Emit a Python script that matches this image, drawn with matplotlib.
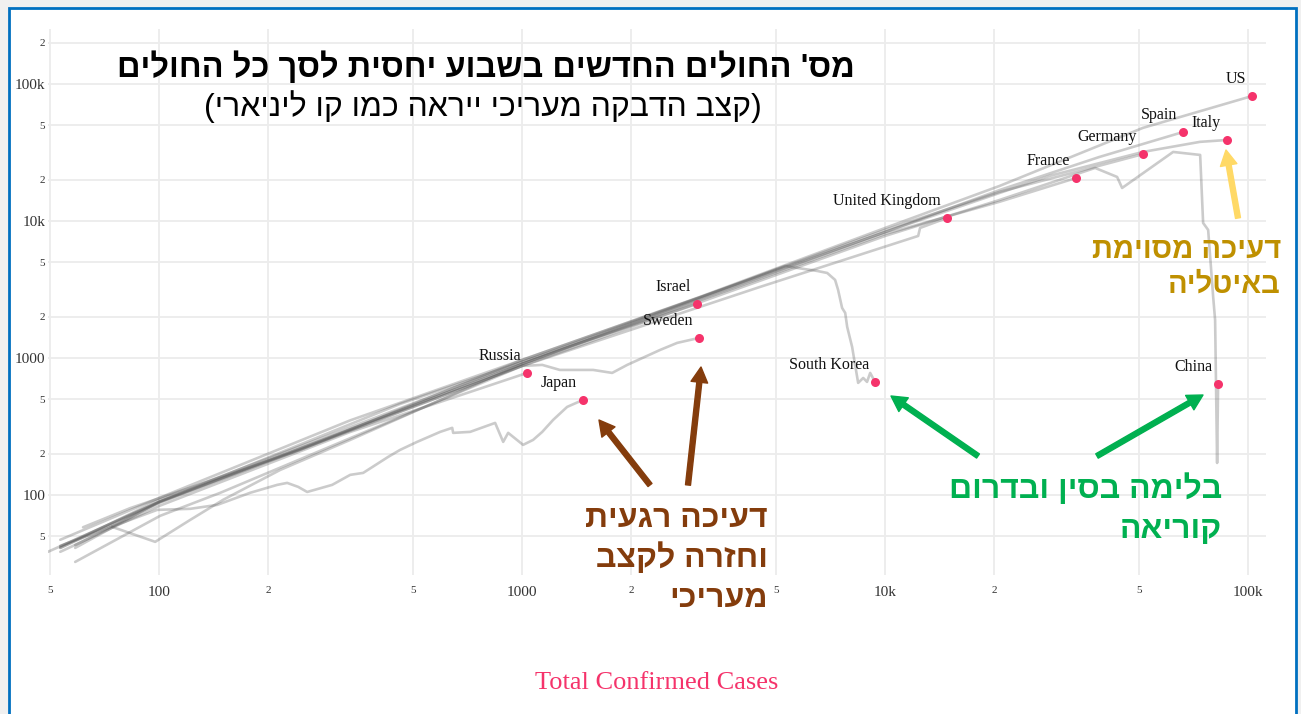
import matplotlib
matplotlib.use('Agg')
import matplotlib.pyplot as plt
from matplotlib.patches import Rectangle

W, H = 1301, 714

# total confirmed cases (x) and new cases in the past week (y), per country
us_total = [53.4, 100, 336, 1000, 3085, 10000, 20650, 51300, 102600]
us_weekly = [47, 95, 350, 967, 2785, 8890, 18000, 47800, 81700]

spain_total = [58.7, 100, 1000, 10000, 20650, 38900, 66200]
spain_weekly = [43, 88, 904, 8300, 16800, 29300, 44600]

italy_total = [61.7, 83.2, 244.6, 1000, 10000, 28350, 51300, 73700, 87500]
italy_weekly = [58, 80, 213, 967, 8300, 21300, 31900, 37800, 39000]

germany_total = [53.4, 100, 1000, 10000, 20650, 33600, 51400]
germany_weekly = [41, 92, 935, 8600, 16300, 22800, 30800]

france_total = [49.4, 100, 1000, 10000, 20650, 33600]
france_weekly = [38.4, 89, 904, 8040, 13800, 20600]

uk_total = [53.4, 100, 1000, 4525, 12330, 12480, 14820]
uk_weekly = [42, 89, 874, 3300, 7770, 8890, 10520]

israel_total = [58.7, 100, 461, 1000, 3035]
israel_weekly = [41, 89, 461, 935, 2478]

sweden_total = [53.4, 100, 461, 1000, 1136, 1270, 1569, 1770, 1947, 2400, 2673, 3074]
sweden_weekly = [41, 87.5, 403, 874, 889, 817, 817, 777, 889, 1144, 1287, 1400]

russia_total = [53.4, 100, 336, 1032]
russia_weekly = [38.4, 83, 288, 777]

japan_total = [53.4, 98.7, 121.8, 144.5, 178, 211.4, 225.2, 241.5, 255.7, 299.6, 336, 364.8,
               427.5, 461, 513.5, 594.6, 641.6, 645.6, 719, 842.5, 886.7, 915, 1006, 1072,
               1136, 1217, 1330, 1472]
japan_weekly = [42.5, 77.7, 79.1, 84.5, 103.5, 118.3, 122.3, 114.4, 105, 118.3, 140, 144.7,
                189.4, 213, 243.7, 288.4, 308.5, 283.6, 288.4, 335.3, 243.7, 283.6, 231.8, 252,
                288.4, 352.6, 438.7, 494]

korea_total = [74.2, 97.5, 121.8, 150, 215.4, 336, 1000, 3085, 5302, 5722, 6496, 6925, 7280,
               7420, 7610, 7762, 7860, 8110, 8266, 8426, 8700, 8915, 9094, 9380]
korea_weekly = [58.4, 45.4, 65.7, 92, 152, 252, 904, 2740, 4693, 4540, 4315, 4170, 3710,
                3136, 2317, 2130, 1683, 1203, 889, 657, 714, 668, 777, 668]

china_total = [58.7, 100.6, 147.3, 1000, 10000, 20650, 37880, 43560, 44960, 62140, 73760,
               75160, 77600, 80110, 81100, 82140, 82650]
china_weekly = [32.4, 70.3, 103.5, 874, 7772, 14220, 24380, 20950, 17410, 31900, 30330,
                9670, 8600, 2787, 1893, 171, 646]

countries = ['US', 'Spain', 'Italy', 'Germany', 'France', 'United Kingdom', 'Israel',
             'Sweden', 'Russia', 'Japan', 'South Korea', 'China']
series = {
    'US': (us_total, us_weekly),
    'Spain': (spain_total, spain_weekly),
    'Italy': (italy_total, italy_weekly),
    'Germany': (germany_total, germany_weekly),
    'France': (france_total, france_weekly),
    'United Kingdom': (uk_total, uk_weekly),
    'Israel': (israel_total, israel_weekly),
    'Sweden': (sweden_total, sweden_weekly),
    'Russia': (russia_total, russia_weekly),
    'Japan': (japan_total, japan_weekly),
    'South Korea': (korea_total, korea_weekly),
    'China': (china_total, china_weekly),
}

x_major = [100, 1000, 10000, 100000]
x_major_labels = ['100', '1000', '10k', '100k']
x_minor = [50, 200, 500, 2000, 5000, 20000, 50000]
x_minor_labels = ['5', '2', '5', '2', '5', '2', '5']
y_major = [100, 1000, 10000, 100000]
y_major_labels = ['100', '1000', '10k', '100k']
y_minor = [50, 200, 500, 2000, 5000, 20000, 50000, 200000]
y_minor_labels = ['5', '2', '5', '2', '5', '2', '5', '2']

title_he = "מס' החולים החדשים בשבוע יחסית לסך כל החולים"
subtitle_he = "(קצב הדבקה מעריכי ייראה כמו קו ליניארי)"
italy_note = "דעיכה מסוימת\nבאיטליה"
brown_note = "דעיכה רגעית\nוחזרה לקצב\nמעריכי"
green_note = "בלימה בסין ובדרום\nקוריאה"

HEB = ['Liberation Sans', 'DejaVu Sans']
SERIF = ['Liberation Serif', 'DejaVu Serif']
DOT = '#f5336b'


def rtl(s):
    # matplotlib lays text out left to right, so flip the Hebrew line
    flip = str.maketrans('()', ')(')
    return s[::-1].translate(flip)


def fxy(px, py):
    # figure pixel (from top-left) -> figure fraction
    return (px / W, 1 - py / H)


def heb_block(fig, right_px, first_base, step, text, **kw):
    # one text per line, right aligned, baselines step pixels apart
    for i, line in enumerate(text.split('\n')):
        fig.text(*fxy(right_px, first_base + i * step), rtl(line), ha='right',
                 va='baseline', family=HEB, fontweight='bold', **kw)


fig = plt.figure(figsize=(W / 100, H / 100), dpi=100)
fig.patch.set_facecolor('#f0f0f0')
fig.add_artist(Rectangle((9 / W, -0.02), (1296 - 9) / W, 1 - 8 / H + 0.02,
                         transform=fig.transFigure, facecolor='white',
                         edgecolor='#0070c0', lw=2, zorder=-5))

ax = fig.add_axes([48 / W, 1 - 575 / H, (1266 - 48) / W, (575 - 29) / H])
ax.set_facecolor('white')
ax.set_xscale('log')
ax.set_yscale('log')
ax.set_xlim(49.4, 112000)
ax.set_ylim(26, 252000)

for name in countries:
    tx, wk = series[name]
    ax.plot(tx, wk, color='#555555', alpha=0.3, lw=1.9, solid_capstyle='round',
            solid_joinstyle='round', zorder=2)

for name in countries:
    tx, wk = series[name]
    ax.plot(tx[-1], wk[-1], 'o', color=DOT, ms=6.5, mec='none', zorder=4)
    ax.annotate(name, (tx[-1], wk[-1]), xytext=(-6, 13), textcoords='offset pixels',
                ha='right', va='baseline', fontsize=11.5, family=SERIF,
                color='#111111', zorder=5)

ax.set_xticks(x_major, labels=x_major_labels)
ax.set_xticks(x_minor, labels=x_minor_labels, minor=True)
ax.set_yticks(y_major, labels=y_major_labels)
ax.set_yticks(y_minor, labels=y_minor_labels, minor=True)
ax.tick_params(which='both', length=0, colors='#333333')
ax.tick_params(axis='x', which='major', labelsize=11, pad=8)
ax.tick_params(axis='x', which='minor', labelsize=8, pad=8)
ax.tick_params(axis='y', which='major', labelsize=11, pad=2)
ax.tick_params(axis='y', which='minor', labelsize=8, pad=2)
for lab in ax.get_xticklabels(which='both') + ax.get_yticklabels(which='both'):
    lab.set_family(SERIF)
ax.grid(True, which='both', color='#ececec', lw=1.3)
ax.set_axisbelow(True)
for sp in ax.spines.values():
    sp.set_visible(False)

# titles
fig.text(*fxy(855, 68), rtl(title_he), ha='right', va='center', fontsize=23.5,
         fontweight='bold', family=HEB, color='black')
fig.text(*fxy(762, 107), rtl(subtitle_he), ha='right', va='center', fontsize=23,
         family=HEB, color='black')
fig.text(*fxy(657, 683), 'Total Confirmed Cases', ha='center', va='center',
         fontsize=19, family=SERIF, color=DOT)

# annotations
heb_block(fig, 1281, 258, 35, italy_note, fontsize=21, color='#bf9000')
heb_block(fig, 768, 527, 40, brown_note, fontsize=23, color='#843c0c')
heb_block(fig, 1222, 498, 40, green_note, fontsize=23, color='#00b050')

arrows = [
    ((1238, 218), (1226, 150), '#ffd966'),
    ((650, 485), (599, 420), '#843c0c'),
    ((688, 485), (701, 367), '#843c0c'),
    ((978, 456), (891, 396), '#00b050'),
    ((1097, 456), (1203, 395), '#00b050'),
]
for tail, tip, col in arrows:
    ax.annotate('', xy=fxy(*tip), xytext=fxy(*tail), xycoords='figure fraction',
                textcoords='figure fraction',
                arrowprops=dict(width=3.6, headwidth=12, headlength=11, color=col,
                                shrink=0), zorder=6)

fig.savefig('out.png', dpi=100, facecolor=fig.get_facecolor())
